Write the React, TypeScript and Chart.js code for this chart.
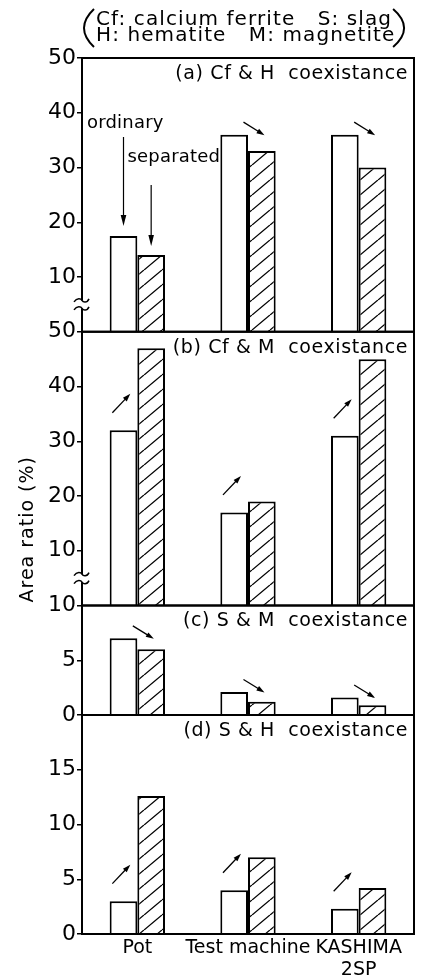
import React, { useEffect, useRef } from 'react';
import { Chart, registerables } from 'chart.js';

Chart.register(...registerables);

// ---------- data ----------
const categories: (string | string[])[] = ['Pot', 'Test machine', ['KASHIMA', '2SP']];
const seriesLabels = ['ordinary', 'separated'];
const legendLines = ['Cf: calcium ferrite   S: slag', 'H: hematite   M: magnetite'];
const panelTitles = [
  '(a) Cf & H  coexistance',
  '(b) Cf & M  coexistance',
  '(c) S & M  coexistance',
  '(d) S & H  coexistance',
];
const yAxisTitle = 'Area ratio (%)';

const cfHOrdinary = [17.5, 36, 36];
const cfHSeparated = [14, 33, 30];
const cfMOrdinary = [32, 17, 31];
const cfMSeparated = [47, 19, 45];
const sMOrdinary = [7, 2.1, 1.6];
const sMSeparated = [6, 1.2, 0.9];
const sHOrdinary = [3, 4, 2.3];
const sHSeparated = [12.6, 7, 4.2];

const panelMax = [50, 50, 10, 20];
const panelStep = [10, 10, 5, 5];
const hiddenTickValues = [[0], [0], [], [20]];
const breakValues: (number | null)[] = [5, 5, null, null];

const ordinarySeries = [cfHOrdinary, cfMOrdinary, sMOrdinary, sHOrdinary];
const separatedSeries = [cfHSeparated, cfMSeparated, sMSeparated, sHSeparated];

// ---------- layout ----------
const panelWeights = [5, 5, 2, 4];
const FONT = 'DejaVu Sans';

function makeHatch(): CanvasPattern {
  const c = document.createElement('canvas');
  const w = 18, h = 15;
  c.width = w; c.height = h;
  const g = c.getContext('2d')!;
  g.fillStyle = '#fff';
  g.fillRect(0, 0, w, h);
  g.strokeStyle = '#000';
  g.lineWidth = 1.3;
  for (const k of [-1, 0, 1]) {
    g.beginPath();
    g.moveTo(k * w, h);
    g.lineTo(k * w + w, 0);
    g.stroke();
  }
  return g.createPattern(c, 'repeat')!;
}

function drawArrow(ctx: CanvasRenderingContext2D, x1: number, y1: number, x2: number, y2: number, head = 8, hw = 2.8) {
  const dx = x2 - x1, dy = y2 - y1;
  const len = Math.hypot(dx, dy);
  const ux = dx / len, uy = dy / len;
  const bx = x2 - ux * head, by = y2 - uy * head;
  ctx.beginPath();
  ctx.moveTo(x1, y1);
  ctx.lineTo(bx + ux * 1, by + uy * 1);
  ctx.stroke();
  ctx.beginPath();
  ctx.moveTo(x2, y2);
  ctx.lineTo(bx - uy * hw, by + ux * hw);
  ctx.lineTo(bx + uy * hw, by - ux * hw);
  ctx.closePath();
  ctx.fill();
}

const annotationPlugin = {
  id: 'annotations',
  afterDatasetsDraw(chart: any) {
    const ctx: CanvasRenderingContext2D = chart.ctx;
    const area = chart.chartArea;
    ctx.save();
    ctx.strokeStyle = '#000';
    ctx.fillStyle = '#000';

    // panel frames
    ctx.lineWidth = 2;
    panelMax.forEach((_, p) => {
      const s = chart.scales['y' + p];
      ctx.strokeRect(area.left, s.top, area.right - area.left, s.bottom - s.top);
    });

    // axis breaks
    breakValues.forEach((v, p) => {
      if (v === null) return;
      const s = chart.scales['y' + p];
      const y = s.getPixelForValue(v);
      const x = area.left;
      ctx.fillStyle = '#fff';
      ctx.fillRect(x - 3, y - 4, 6, 8);
      ctx.fillStyle = '#000';
      ctx.lineWidth = 1.5;
      for (const dy of [-4, 4]) {
        const yy = y + dy;
        ctx.beginPath();
        ctx.moveTo(x - 8, yy + 1.5);
        ctx.bezierCurveTo(x - 5, yy - 3, x - 1, yy - 2, x, yy);
        ctx.bezierCurveTo(x + 1, yy + 2, x + 5, yy + 3, x + 7, yy - 1.5);
        ctx.stroke();
      }
    });

    // panel titles
    ctx.font = `19px "${FONT}"`;
    (ctx as any).letterSpacing = '0.6px';
    ctx.textAlign = 'right';
    ctx.textBaseline = 'middle';
    panelTitles.forEach((t, p) => {
      const s = chart.scales['y' + p];
      ctx.fillText(t, area.right - 6, s.top + 16);
    });

    // change arrows
    ctx.lineWidth = 1.3;
    panelMax.forEach((_, p) => {
      const mo = chart.getDatasetMeta(2 * p).data;
      categories.forEach((__, i) => {
        if (p === 0 && i === 0) return;
        const o: any = mo[i];
        const boundary = o.x + o.width / 2;
        const up = separatedSeries[p][i] > ordinarySeries[p][i];
        let cx: number, cy: number, hx: number, hy: number;
        if (up) { cx = boundary - 16; cy = o.y - 27; hx = 9; hy = -9.5; }
        else { cx = boundary + 6; cy = o.y - 6; hx = 10.5; hy = 6.5; }
        drawArrow(ctx, cx - hx, cy - hy, cx + hx, cy + hy, 8, 2.6);
      });
    });

    // ordinary / separated labels (panel a, first group)
    {
      const s = chart.scales.y0;
      const o: any = chart.getDatasetMeta(0).data[0];
      const sp: any = chart.getDatasetMeta(1).data[0];
      ctx.font = `18px "${FONT}"`;
      (ctx as any).letterSpacing = '0.2px';
      ctx.textAlign = 'left';
      ctx.textBaseline = 'middle';
      ctx.fillText(seriesLabels[0], area.left + 5, s.top + 65);
      ctx.fillText(seriesLabels[1], o.x + 4, s.top + 99);
      ctx.lineWidth = 1.2;
      drawArrow(ctx, o.x, s.top + 79, o.x, o.y - 10, 11, 2.8);
      drawArrow(ctx, sp.x, s.top + 127, sp.x, sp.y - 9, 11, 2.8);
    }

    // legend at top with big parentheses
    ctx.font = `20px "${FONT}"`;
    (ctx as any).letterSpacing = '1.1px';
    ctx.textAlign = 'left';
    ctx.textBaseline = 'middle';
    const lx = area.left + 14;
    ctx.fillText(legendLines[0], lx, area.top - 38);
    ctx.fillText(legendLines[1], lx, area.top - 22.5);
    const w1 = ctx.measureText(legendLines[0]).width;
    const rx = lx + w1 + 1;
    ctx.lineWidth = 2;
    ctx.beginPath();
    ctx.moveTo(lx - 2, area.top - 49);
    ctx.quadraticCurveTo(lx - 22, area.top - 30, lx - 2, area.top - 11);
    ctx.stroke();
    ctx.beginPath();
    ctx.moveTo(rx, area.top - 49);
    ctx.quadraticCurveTo(rx + 22, area.top - 30, rx, area.top - 11);
    ctx.stroke();

    // y axis title
    const sb = chart.scales.y1;
    ctx.font = `19px "${FONT}"`;
    (ctx as any).letterSpacing = '1px';
    ctx.translate(28, sb.bottom - 3);
    ctx.rotate(-Math.PI / 2);
    ctx.textAlign = 'left';
    ctx.textBaseline = 'middle';
    ctx.fillText(yAxisTitle, 0, 0);

    (ctx as any).letterSpacing = '0px';
    ctx.restore();
  },
};

export default function App() {
  const ref = useRef<HTMLCanvasElement>(null);

  useEffect(() => {
    document.body.style.margin = '0';
    document.body.style.overflow = 'hidden';
    const canvas = ref.current!;
    const hatch = makeHatch();

    Chart.defaults.font.family = FONT;
    Chart.defaults.color = '#000';

    const datasets: any[] = [];
    ordinarySeries.forEach((vals, p) => {
      datasets.push({
        label: seriesLabels[0],
        data: vals,
        yAxisID: 'y' + p,
        stack: 'ordinary',
        backgroundColor: '#fff',
        borderColor: '#000',
        borderWidth: 2,
        borderSkipped: 'start',
        barPercentage: 1,
        categoryPercentage: 0.5,
      });
      datasets.push({
        label: seriesLabels[1],
        data: separatedSeries[p],
        yAxisID: 'y' + p,
        stack: 'separated',
        backgroundColor: hatch,
        borderColor: '#000',
        borderWidth: 2,
        borderSkipped: 'start',
        barPercentage: 1,
        categoryPercentage: 0.5,
      });
    });

    const scales: any = {
      x: {
        type: 'category',
        grid: { display: false, drawTicks: false },
        border: { display: false },
        ticks: { font: { size: 19, lineHeight: 1.15 }, color: '#000', padding: 3, maxRotation: 0, autoSkip: false },
        afterFit: (s: any) => { s.height = 44; },
      },
    };
    panelMax.forEach((mx, p) => {
      scales['y' + p] = {
        type: 'linear',
        position: 'left',
        stack: 'panels',
        stackWeight: panelWeights[p],
        weight: 10 - p,
        stacked: false,
        min: 0,
        max: mx,
        afterBuildTicks: (s: any) => {
          s.ticks = s.ticks.filter((t: any) => !hiddenTickValues[p].includes(t.value));
        },
        afterFit: (s: any) => { s.width = 74; },
        ticks: { stepSize: panelStep[p], autoSkip: false, font: { size: 22 }, color: '#000', padding: 1 },
        grid: { drawOnChartArea: false, drawTicks: true, tickLength: 5, color: '#000', lineWidth: 1.5 },
        border: { display: true, color: '#000', width: 2 },
      };
    });

    const chart = new Chart(canvas, {
      type: 'bar',
      data: { labels: categories as any, datasets },
      options: {
        responsive: false,
        animation: false,
        devicePixelRatio: 1,
        layout: { padding: { top: 58, right: 16, left: 8, bottom: 0 } },
        plugins: { legend: { display: false }, tooltip: { enabled: false } },
        scales,
      } as any,
      plugins: [annotationPlugin as any],
    });
    return () => chart.destroy();
  }, []);

  return (
    <div style={{ position: 'absolute', left: 0, top: 0, width: 430, height: 978, background: '#fff' }}>
      <canvas ref={ref} width={430} height={978} style={{ display: 'block' }} />
    </div>
  );
}
